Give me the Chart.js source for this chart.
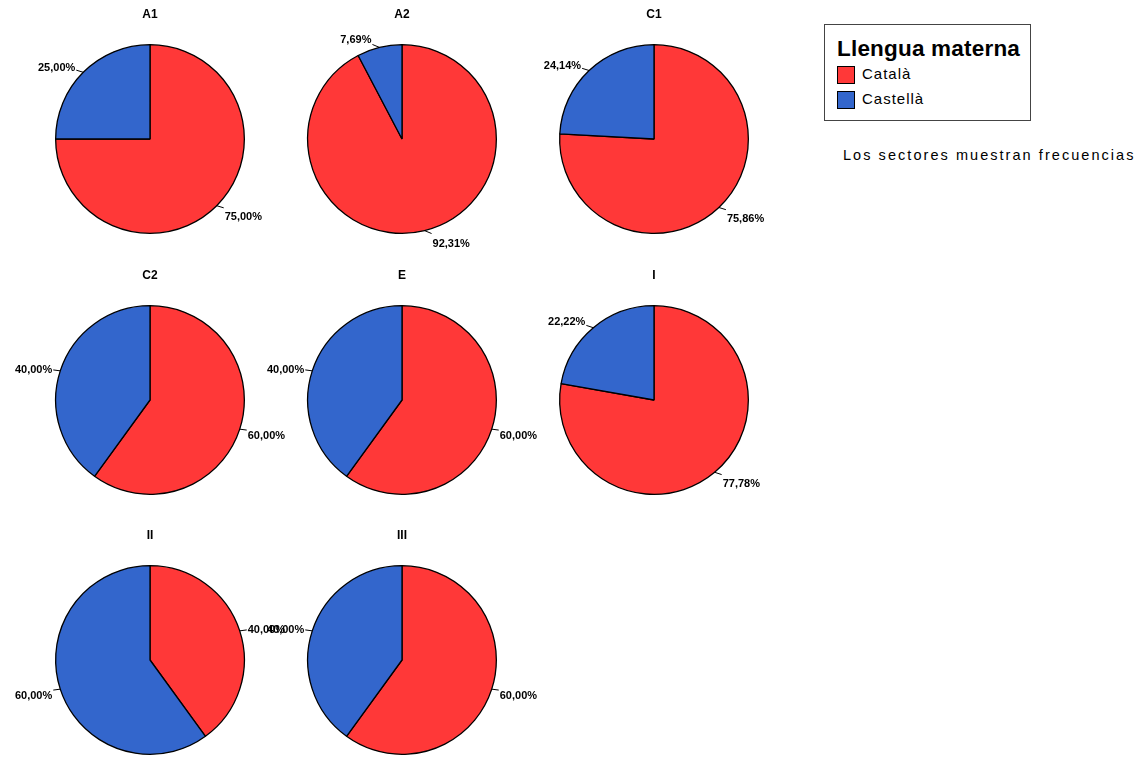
<!DOCTYPE html>
<html>
<head>
<meta charset="utf-8">
<script src="https://cdn.jsdelivr.net/npm/chart.js@4"></script>
<style>
  html, body { margin: 0; padding: 0; background: #fff; }
  body { width: 1144px; height: 758px; position: relative; overflow: hidden; font-family: "Liberation Sans", Arial, sans-serif; }
  canvas.pie { position: absolute; }
  #legend { position: absolute; left: 824px; top: 24px; width: 207px; height: 97px; border: 1px solid #444; box-sizing: border-box; }
  #legend .ttl { position: absolute; left: 12px; top: 11px; font-weight: bold; font-size: 22.5px; color: #000; white-space: nowrap; letter-spacing: 0.2px; }
  #legend .item { position: absolute; left: 12px; height: 18px; font-size: 15px; color: #000; white-space: nowrap; letter-spacing: 1px; }
  #legend .sw { position: absolute; left: 0; top: 0; width: 16px; height: 16px; border: 1px solid #000; }
  #legend .lbl { position: absolute; left: 25px; top: -1px; }
  #note { position: absolute; left: 843px; top: 147px; font-size: 14.5px; letter-spacing: 2.05px; white-space: nowrap; color: #000; }
</style>
</head>
<body>
<div id="legend">
  <div class="ttl">Llengua materna</div>
  <div class="item" style="top:41px"><div class="sw" style="background:#FF3838"></div><span class="lbl">Català</span></div>
  <div class="item" style="top:66px"><div class="sw" style="background:#3366CC"></div><span class="lbl">Castellà</span></div>
</div>
<div id="note">Los sectores muestran frecuencias</div>
<script>
// ---- data ----
const groups   = ["A1", "A2", "C1", "C2", "E", "I", "II", "III"];
const series   = ["Català", "Castellà"];
const catala   = [75.00, 92.31, 75.86, 60.00, 60.00, 77.78, 40.00, 60.00];
const castella = [25.00,  7.69, 24.14, 40.00, 40.00, 22.22, 60.00, 40.00];

// ---- layout / style ----
const colors = ["#FF3838", "#3366CC"];
const colX = [150, 402, 654];
const rowY = [139, 400, 660];
const R = 95;
const CW = 300, CH = 270;

const labelPlugin = {
  id: 'sliceLabels',
  afterDatasetsDraw(chart) {
    const ctx = chart.ctx;
    const meta = chart.getDatasetMeta(0);
    const data = chart.data.datasets[0].data;
    const total = data.reduce((a, b) => a + b, 0);
    ctx.save();
    ctx.font = 'bold 11px "Liberation Sans", Arial, sans-serif';
    ctx.fillStyle = '#000';
    ctx.strokeStyle = '#000';
    ctx.lineWidth = 1;
    meta.data.forEach((arc, i) => {
      const p = arc.getProps(['x', 'y', 'startAngle', 'endAngle', 'outerRadius'], true);
      const mid = (p.startAngle + p.endAngle) / 2;
      const dx = Math.cos(mid), dy = Math.sin(mid);
      const sign = dx >= 0 ? 1 : -1;
      const ex = p.x + dx * p.outerRadius, ey = p.y + dy * p.outerRadius;
      const tx = ex + sign * 7, ty = ey + dy * 3;
      ctx.beginPath();
      ctx.moveTo(ex, ey);
      ctx.lineTo(tx, ty);
      ctx.stroke();
      const pct = (data[i] / total * 100).toFixed(2).replace('.', ',') + '%';
      ctx.textAlign = sign > 0 ? 'left' : 'right';
      ctx.textBaseline = 'middle';
      ctx.fillText(pct, tx + sign * 1, ty + dy * 8 + 3);
    });
    ctx.restore();
  }
};

const titlePlugin = {
  id: 'pieTitle',
  afterDraw(chart) {
    const ctx = chart.ctx;
    const a = chart.chartArea;
    ctx.save();
    ctx.font = 'bold 12px "Liberation Sans", Arial, sans-serif';
    ctx.fillStyle = '#000';
    ctx.textAlign = 'center';
    ctx.textBaseline = 'middle';
    ctx.fillText(chart.options.plugins.pieTitle.text, (a.left + a.right) / 2, (a.top + a.bottom) / 2 - 124);
    ctx.restore();
  }
};

groups.forEach((g, i) => {
  const cx = colX[i % 3], cy = rowY[Math.floor(i / 3)];
  const cv = document.createElement('canvas');
  cv.className = 'pie';
  cv.width = CW; cv.height = CH;
  cv.style.left = (cx - CW / 2) + 'px';
  cv.style.top = (cy - CH / 2) + 'px';
  cv.style.width = CW + 'px';
  cv.style.height = CH + 'px';
  document.body.appendChild(cv);
  const padX = (CW - 2 * R) / 2, padY = (CH - 2 * R) / 2;
  new Chart(cv, {
    type: 'pie',
    data: {
      labels: series,
      datasets: [{
        data: [catala[i], castella[i]],
        backgroundColor: colors,
        borderColor: '#000',
        borderWidth: 1.3,
        hoverOffset: 0
      }]
    },
    options: {
      responsive: false,
      animation: false,
      events: [],
      layout: { padding: { left: padX, right: padX, top: padY, bottom: padY } },
      plugins: {
        legend: { display: false },
        tooltip: { enabled: false },
        title: { display: false },
        pieTitle: { text: g }
      }
    },
    plugins: [labelPlugin, titlePlugin]
  });
});
</script>
</body>
</html>
